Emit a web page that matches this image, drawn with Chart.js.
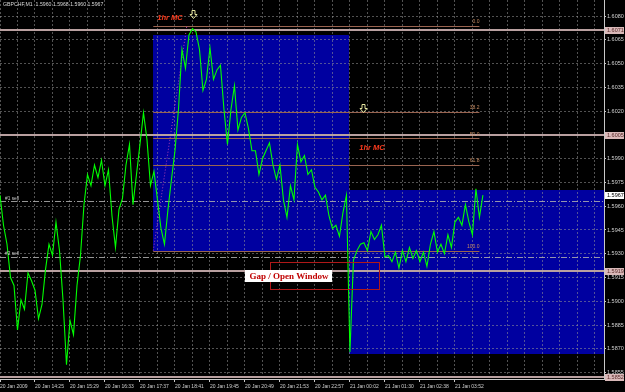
<!DOCTYPE html>
<html><head><meta charset="utf-8">
<script src="https://cdn.jsdelivr.net/npm/chart.js@4/dist/chart.umd.min.js"></script>
<style>html,body{margin:0;padding:0;background:#000;overflow:hidden}canvas{display:block}</style>
</head><body>
<canvas id="c" width="625" height="392"></canvas>
<script>
// ---------------- data ----------------
const symbolTitle = 'GBPCHF,M1  1.5960 1.5968 1.5960 1.5967';
const timeLabels = ['20 Jan 2009','20 Jan 14:25','20 Jan 15:29','20 Jan 16:33','20 Jan 17:37','20 Jan 18:41','20 Jan 19:45','20 Jan 20:49','20 Jan 21:53','20 Jan 22:57','21 Jan 00:02','21 Jan 01:30','21 Jan 02:38','21 Jan 03:52'];
const closes = [
1.5967,1.5948,1.5936,1.5915,1.5910,1.5882,1.5901,1.5895,1.5918,1.5913,
1.5907,1.5889,1.5898,1.5920,1.5936,1.5929,1.5950,1.5932,1.5901,1.5860,
1.5888,1.5879,1.5910,1.5929,1.5961,1.5980,1.5973,1.5986,1.5978,1.5989,
1.5973,1.5983,1.5954,1.5934,1.5958,1.5965,1.5986,1.5999,1.5961,1.5980,
1.5999,1.6019,1.6002,1.5973,1.5982,1.5964,1.5946,1.5936,1.5958,1.5977,
1.5995,1.6021,1.6059,1.6047,1.6068,1.6072,1.6070,1.6059,1.6033,1.6040,
1.6060,1.6040,1.6046,1.6049,1.6021,1.5999,1.6021,1.6036,1.6008,1.6016,
1.6019,1.6009,1.5995,1.5995,1.5980,1.5990,1.5995,1.6000,1.5986,1.5977,
1.5986,1.5964,1.5953,1.5973,1.5964,1.5999,1.5988,1.5992,1.5980,1.5983,
1.5972,1.5969,1.5964,1.5967,1.5954,1.5946,1.5948,1.5941,1.5956,1.5967,
1.5868,1.5926,1.5932,1.5936,1.5937,1.5932,1.5944,1.5939,1.5942,1.5948,
1.5928,1.5929,1.5925,1.5931,1.5921,1.5932,1.5925,1.5934,1.5927,1.5932,
1.5925,1.5931,1.5922,1.5936,1.5944,1.5931,1.5936,1.5930,1.5942,1.5934,
1.5950,1.5953,1.5948,1.5961,1.5950,1.5942,1.5971,1.5953,1.5967
];
const yTickValues = [1.5855,1.5870,1.5885,1.5900,1.5915,1.5930,1.5945,1.5960,1.5975,1.5990,1.6005,1.6020,1.6035,1.6050,1.6065,1.6080];
const yRange = [1.58510, 1.60901];
const xRange = [0, 172.6];
const levelLines = [1.6071, 1.6005, 1.5919, 1.5852];
const currentPrice = 1.5967;
const orderLines = [1.5963, 1.5928];
const orderLabels = ['#1 sell', '#2 sell'];
const fibPrices = [1.6074, 1.5932];
const fibPercents = [0, 38.2, 50, 61.8, 100];
const fibIndexSpan = [43.8, 137];
const zoneA = [43.8, 99.8, 1.6068, 1.5932];
const zoneB = [99.8, 172.6, 1.5970, 1.5867];
const gapBox = [77.1, 108.3, 1.5925, 1.5908];
const gapNote = ['Gap / Open Window', 82.6, 1.5916];
const mcNotes = [['1hr MC', 48.6, 1.6079], ['1hr MC', 106.3, 1.5997]];
const arrowMarks = [[55.1, 1.6081], [103.7, 1.6022]];

// ---------------- drawing ----------------
const xGridValues = [];
for (let v = 0; v <= 170; v += 5) xGridValues.push(v);
const isLabelTick = v => v % 10 === 0 && v / 10 < timeLabels.length;

const px = (c, v) => c.scales.x.getPixelForValue(v);
const py = (c, v) => c.scales.y.getPixelForValue(v);

const overlay = {
  id: 'overlay',
  beforeDraw(c) {
    const ctx = c.ctx, a = c.chartArea;
    ctx.save();
    ctx.fillStyle = '#000';
    ctx.fillRect(0, 0, c.width, c.height);
    ctx.fillStyle = 'rgb(0,0,160)';
    [zoneA, zoneB].forEach(z => {
      const x1 = Math.round(px(c, z[0])), x2 = Math.min(Math.round(px(c, z[1])), a.right);
      const y1 = Math.round(py(c, z[2])), y2 = Math.round(py(c, z[3]));
      ctx.fillRect(x1, y1, x2 - x1, y2 - y1);
    });
    ctx.restore();
  },
  beforeDatasetsDraw(c) {
    const ctx = c.ctx, a = c.chartArea;
    ctx.save();
    ctx.beginPath(); ctx.rect(a.left, a.top, a.right - a.left, a.bottom - a.top); ctx.clip();
    // order lines
    ctx.lineWidth = 1;
    ctx.strokeStyle = 'rgba(175,175,175,0.85)';
    ctx.setLineDash([6, 2, 1, 2]);
    orderLines.forEach(p => {
      const y = Math.round(py(c, p)) + 0.5;
      ctx.beginPath(); ctx.moveTo(a.left, y); ctx.lineTo(a.right, y); ctx.stroke();
    });
    // fib base line (dotted)
    ctx.setLineDash([1, 2]);
    ctx.strokeStyle = '#b040b0';
    ctx.beginPath();
    ctx.moveTo(px(c, fibIndexSpan[0]), py(c, fibPrices[1]));
    ctx.lineTo(px(c, 53.4), py(c, fibPrices[0]));
    ctx.stroke();
    // fib levels
    ctx.setLineDash([]);
    ctx.strokeStyle = '#9a6450';
    const fx1 = px(c, fibIndexSpan[0]), fx2 = px(c, fibIndexSpan[1]);
    fibPercents.forEach(f => {
      const p = fibPrices[0] - (fibPrices[0] - fibPrices[1]) * f / 100;
      const y = Math.round(py(c, p)) + 0.5;
      ctx.beginPath(); ctx.moveTo(fx1, y); ctx.lineTo(fx2, y); ctx.stroke();
    });
    // horizontal levels
    ctx.strokeStyle = 'rgb(185,160,160)';
    ctx.lineWidth = 2;
    levelLines.forEach(p => {
      const y = Math.round(py(c, p));
      ctx.beginPath(); ctx.moveTo(a.left, y); ctx.lineTo(a.right, y); ctx.stroke();
    });
    ctx.restore();
  },
  afterDraw(c) {
    const ctx = c.ctx, a = c.chartArea;
    ctx.save();
    // title
    ctx.font = '5.2px "Liberation Sans"';
    ctx.fillStyle = '#d8d8d8';
    ctx.textBaseline = 'middle';
    ctx.textAlign = 'left';
    ctx.fillText(symbolTitle, 3, 5);
    // order labels
    ctx.fillStyle = '#c8c8c8';
    ctx.font = '4.8px "Liberation Sans"';
    orderLines.forEach((p, i) => ctx.fillText(orderLabels[i], 5, py(c, p) - 3));
    // fib labels
    ctx.font = '5px "Liberation Sans"';
    ctx.fillStyle = '#c58a60';
    ctx.textAlign = 'right';
    ctx.textBaseline = 'bottom';
    const fx2 = px(c, fibIndexSpan[1]);
    fibPercents.forEach(f => {
      const p = fibPrices[0] - (fibPrices[0] - fibPrices[1]) * f / 100;
      ctx.fillText(f.toFixed(1), fx2, py(c, p) - 1);
    });
    // 1hr MC notes
    ctx.font = 'italic bold 7.5px "Liberation Sans"';
    ctx.fillStyle = '#ff3c1e';
    ctx.textAlign = 'center';
    ctx.textBaseline = 'middle';
    mcNotes.forEach(n => ctx.fillText(n[0], px(c, n[1]), py(c, n[2])));
    // arrows
    ctx.strokeStyle = '#e6e6a0';
    ctx.lineWidth = 1;
    arrowMarks.forEach(m => {
      const cx = Math.round(px(c, m[0])) + 0.5, cy = Math.round(py(c, m[1])) + 0.5;
      ctx.beginPath();
      ctx.moveTo(cx - 1.5, cy - 4); ctx.lineTo(cx + 1.5, cy - 4); ctx.lineTo(cx + 1.5, cy);
      ctx.lineTo(cx + 3.5, cy); ctx.lineTo(cx, cy + 4); ctx.lineTo(cx - 3.5, cy);
      ctx.lineTo(cx - 1.5, cy); ctx.closePath(); ctx.stroke();
    });
    // gap box
    ctx.strokeStyle = '#b01818';
    const gx1 = Math.round(px(c, gapBox[0])) + 0.5, gx2 = Math.round(px(c, gapBox[1])) + 0.5;
    const gy1 = Math.round(py(c, gapBox[2])) + 0.5, gy2 = Math.round(py(c, gapBox[3])) + 0.5;
    ctx.strokeRect(gx1, gy1, gx2 - gx1, gy2 - gy1);
    // gap note
    ctx.font = 'bold 9px "Liberation Serif"';
    const tw = ctx.measureText(gapNote[0]).width;
    const nx = px(c, gapNote[1]), ny = py(c, gapNote[2]);
    ctx.fillStyle = '#ffffff';
    ctx.fillRect(Math.round(nx - tw / 2 - 4), Math.round(ny - 6), Math.round(tw + 8), 12);
    ctx.fillStyle = '#c00000';
    ctx.fillText(gapNote[0], nx, ny + 0.5);
    // price tags on axis
    ctx.font = '5.5px "Liberation Sans"';
    ctx.textAlign = 'left';
    const tag = (p, bg, fg) => {
      const y = Math.round(py(c, p));
      ctx.fillStyle = bg;
      ctx.fillRect(a.right + 1, y - 3, 19, 7);
      ctx.fillStyle = fg;
      ctx.fillText(p.toFixed(4), a.right + 3, y + 0.5);
    };
    levelLines.forEach(p => tag(p, '#d9b9b9', '#5a2a2a'));
    tag(currentPrice, '#ffffff', '#000000');
    ctx.restore();
  }
};

const gridColor = 'rgba(150,150,150,0.55)';
const noPad = s => { s.paddingTop = 0; s.paddingBottom = 0; s.paddingLeft = 0; s.paddingRight = 0; };

new Chart(document.getElementById('c'), {
  type: 'line',
  data: {
    datasets: [{
      data: closes.map((v, i) => ({x: i, y: v})),
      borderColor: '#00ff00',
      borderWidth: 1.1,
      pointRadius: 0,
      tension: 0,
      fill: false
    }]
  },
  options: {
    responsive: false,
    devicePixelRatio: 1,
    animation: false,
    layout: {padding: 0},
    plugins: {legend: {display: false}, tooltip: {enabled: false}},
    scales: {
      x: {
        type: 'linear',
        min: xRange[0], max: xRange[1],
        afterBuildTicks: s => { s.ticks = xGridValues.map(v => ({value: v})); },
        afterFit: s => { s.height = 13; noPad(s); },
        ticks: {
          autoSkip: false, maxRotation: 0, minRotation: 0, align: 'start', padding: 2,
          color: '#d0d0d0', font: {family: 'Liberation Sans', size: 5},
          callback: v => isLabelTick(v) ? timeLabels[v / 10] : ''
        },
        grid: {
          color: gridColor, lineWidth: 1, tickLength: 3,
          tickColor: ctx => (ctx.tick && isLabelTick(ctx.tick.value)) ? '#c8c8c8' : 'rgba(0,0,0,0)'
        },
        border: {color: '#c8c8c8', width: 1, dash: [2, 2]}
      },
      y: {
        type: 'linear', position: 'right',
        min: yRange[0], max: yRange[1],
        afterBuildTicks: s => { s.ticks = yTickValues.map(v => ({value: v})); },
        afterFit: s => { s.width = 21; noPad(s); },
        ticks: {
          padding: 1, color: '#d0d0d0', font: {family: 'Liberation Sans', size: 5.5},
          callback: v => v.toFixed(4)
        },
        grid: {color: gridColor, lineWidth: 1, tickLength: 2, tickColor: '#c8c8c8'},
        border: {color: '#c8c8c8', width: 1, dash: [2, 2]}
      }
    }
  },
  plugins: [overlay]
});
</script>
</body></html>
